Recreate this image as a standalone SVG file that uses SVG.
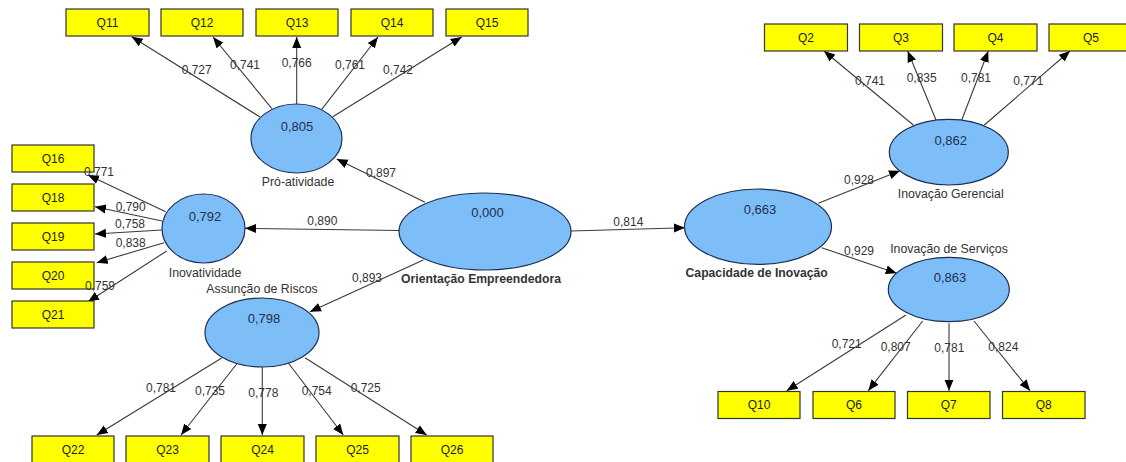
<svg xmlns="http://www.w3.org/2000/svg" width="1126" height="462" viewBox="0 0 1126 462">
<defs>
<marker id="arr" markerUnits="userSpaceOnUse" markerWidth="12" markerHeight="10" refX="11" refY="5" orient="auto">
<path d="M0,0.5 L11,5 L0,9.5 Z" fill="#000"/>
</marker>
<style>
.bg{fill:#fff}
.box{fill:#ffff00;stroke:#333;stroke-width:1.2}
.lv{fill:#7dbdf8;stroke:#1f2f4f;stroke-width:1.2}
.bt{font-family:"Liberation Sans",Arial,sans-serif;font-size:12px;fill:#222;text-anchor:middle;dominant-baseline:central}
.val{font-family:"Liberation Sans",Arial,sans-serif;font-size:13px;fill:#1f2f4f;text-anchor:middle;dominant-baseline:central}
.nm{font-family:"Liberation Sans",Arial,sans-serif;font-size:12.3px;fill:#333;text-anchor:middle;dominant-baseline:central}
.nmb{font-family:"Liberation Sans",Arial,sans-serif;font-size:12.2px;font-weight:bold;fill:#333;text-anchor:middle;dominant-baseline:central}
.cl{stroke:#3a3a3a;stroke-width:1.1;fill:none;marker-end:url(#arr)}
.lb{font-family:"Liberation Sans",Arial,sans-serif;font-size:12px;fill:#333;text-anchor:middle;dominant-baseline:central}
</style>
</defs>
<rect class="bg" x="0" y="0" width="1126" height="462"/>

<g id="connectors">
<line class="cl" x1="260" y1="117" x2="131.7" y2="36.7"/>
<line class="cl" x1="271.7" y1="108.3" x2="213" y2="37"/>
<line class="cl" x1="296.7" y1="104" x2="296.7" y2="37"/>
<line class="cl" x1="321.7" y1="109.3" x2="378" y2="37"/>
<line class="cl" x1="332.7" y1="116.7" x2="461.7" y2="37"/>

<line class="cl" x1="165.7" y1="211.7" x2="88" y2="175"/>
<line class="cl" x1="162" y1="221" x2="95" y2="206.7"/>
<line class="cl" x1="162" y1="230" x2="95" y2="234"/>
<line class="cl" x1="164" y1="242.7" x2="96.7" y2="262.7"/>
<line class="cl" x1="166.7" y1="251" x2="88" y2="301.7"/>

<line class="cl" x1="221.7" y1="358" x2="96.7" y2="435"/>
<line class="cl" x1="236.7" y1="364" x2="181" y2="435"/>
<line class="cl" x1="262.3" y1="367" x2="262.3" y2="435"/>
<line class="cl" x1="288.3" y1="363" x2="343.3" y2="435"/>
<line class="cl" x1="305" y1="357.7" x2="426.7" y2="435"/>

<line class="cl" x1="425" y1="202.3" x2="336.7" y2="159"/>
<line class="cl" x1="399.3" y1="230.5" x2="245" y2="228.3"/>
<line class="cl" x1="423.3" y1="260" x2="310" y2="311.7"/>
<line class="cl" x1="571" y1="231" x2="685" y2="227.7"/>

<line class="cl" x1="818.3" y1="203.3" x2="900" y2="170.7"/>
<line class="cl" x1="821.7" y1="247.7" x2="896.7" y2="273.3"/>

<line class="cl" x1="913.3" y1="125" x2="824" y2="51"/>
<line class="cl" x1="936" y1="120" x2="907.7" y2="51"/>
<line class="cl" x1="961.7" y1="120" x2="988.3" y2="51"/>
<line class="cl" x1="984.3" y1="125" x2="1070" y2="51"/>

<line class="cl" x1="906" y1="315" x2="786.7" y2="390.7"/>
<line class="cl" x1="922.7" y1="321" x2="868.3" y2="390.7"/>
<line class="cl" x1="949" y1="323.3" x2="949" y2="390.7"/>
<line class="cl" x1="974" y1="321" x2="1030" y2="390.7"/>
</g>

<g id="Q11"><rect class="box" x="66" y="9" width="83" height="27"/><text class="bt" x="107.5" y="22.5">Q11</text></g>
<g id="Q12"><rect class="box" x="161" y="9" width="82" height="27"/><text class="bt" x="202" y="22.5">Q12</text></g>
<g id="Q13"><rect class="box" x="256" y="9" width="82" height="27"/><text class="bt" x="297" y="22.5">Q13</text></g>
<g id="Q14"><rect class="box" x="351" y="9" width="82" height="27"/><text class="bt" x="392" y="22.5">Q14</text></g>
<g id="Q15"><rect class="box" x="446" y="9" width="82" height="27"/><text class="bt" x="487" y="22.5">Q15</text></g>

<g id="Q16"><rect class="box" x="12" y="145" width="82" height="27"/><text class="bt" x="53" y="158.5">Q16</text></g>
<g id="Q18"><rect class="box" x="12" y="184" width="82" height="27"/><text class="bt" x="53" y="197.5">Q18</text></g>
<g id="Q19"><rect class="box" x="12" y="223" width="82" height="27"/><text class="bt" x="53" y="236.5">Q19</text></g>
<g id="Q20"><rect class="box" x="12" y="262" width="82" height="27"/><text class="bt" x="53" y="275.5">Q20</text></g>
<g id="Q21"><rect class="box" x="12" y="301" width="82" height="27"/><text class="bt" x="53" y="314.5">Q21</text></g>

<g id="Q22"><rect class="box" x="32" y="436" width="82" height="27"/><text class="bt" x="73" y="449.5">Q22</text></g>
<g id="Q23"><rect class="box" x="126" y="436" width="83" height="27"/><text class="bt" x="167.5" y="449.5">Q23</text></g>
<g id="Q24"><rect class="box" x="221" y="436" width="83" height="27"/><text class="bt" x="262.5" y="449.5">Q24</text></g>
<g id="Q25"><rect class="box" x="316" y="436" width="83" height="27"/><text class="bt" x="357.5" y="449.5">Q25</text></g>
<g id="Q26"><rect class="box" x="411" y="436" width="82" height="27"/><text class="bt" x="452" y="449.5">Q26</text></g>

<g id="Q2"><rect class="box" x="764.5" y="24" width="83" height="27"/><text class="bt" x="806" y="37.5">Q2</text></g>
<g id="Q3"><rect class="box" x="859.5" y="24" width="83" height="27"/><text class="bt" x="901" y="37.5">Q3</text></g>
<g id="Q4"><rect class="box" x="954" y="24" width="83" height="27"/><text class="bt" x="995.5" y="37.5">Q4</text></g>
<g id="Q5"><rect class="box" x="1049" y="24" width="83" height="27"/><text class="bt" x="1091" y="37.5">Q5</text></g>

<g id="Q10"><rect class="box" x="718" y="391.5" width="82" height="27"/><text class="bt" x="759" y="405">Q10</text></g>
<g id="Q6"><rect class="box" x="813" y="391.5" width="82" height="27"/><text class="bt" x="854" y="405">Q6</text></g>
<g id="Q7"><rect class="box" x="907.5" y="391.5" width="82.5" height="27"/><text class="bt" x="948.7" y="405">Q7</text></g>
<g id="Q8"><rect class="box" x="1002.5" y="391.5" width="82.5" height="27"/><text class="bt" x="1043.7" y="405">Q8</text></g>

<g id="pro-atividade"><ellipse class="lv" cx="296.5" cy="138.5" rx="45.5" ry="34.5"/><text class="val" x="297" y="126">0,805</text><text class="nm" x="298" y="182">Pró-atividade</text></g>
<g id="inovatividade"><ellipse class="lv" cx="203.5" cy="228.5" rx="41.5" ry="34.5"/><text class="val" x="205" y="216">0,792</text><text class="nm" x="205" y="273">Inovatividade</text></g>
<g id="assuncao-de-riscos"><ellipse class="lv" cx="262" cy="332.5" rx="57" ry="34.5"/><text class="val" x="264" y="318">0,798</text><text class="nm" x="262" y="289">Assunção de Riscos</text></g>
<g id="orientacao-empreendedora"><ellipse class="lv" cx="485" cy="231.5" rx="86" ry="38.5"/><text class="val" x="487.5" y="212.7">0,000</text><text class="nmb" x="481" y="279.3">Orientação Empreendedora</text></g>
<g id="capacidade-de-inovacao"><ellipse class="lv" cx="758" cy="226.7" rx="73.5" ry="37.7"/><text class="val" x="760" y="209.3">0,663</text><text class="nmb" x="756.7" y="273.3">Capacidade de Inovação</text></g>
<g id="inovacao-gerencial"><ellipse class="lv" cx="948.8" cy="152.2" rx="59.5" ry="32.8"/><text class="val" x="950.7" y="140">0,862</text><text class="nm" x="950.7" y="194.3">Inovação Gerencial</text></g>
<g id="inovacao-de-servicos"><ellipse class="lv" cx="948.8" cy="289.5" rx="60.5" ry="32.2"/><text class="val" x="950" y="277.3">0,863</text><text class="nm" x="949" y="249">Inovação de Serviços</text></g>

<g id="connector-labels">
<text class="lb" x="196.7" y="70">0,727</text>
<text class="lb" x="245" y="65">0,741</text>
<text class="lb" x="296.7" y="63">0,766</text>
<text class="lb" x="350" y="65">0,761</text>
<text class="lb" x="398" y="70">0,742</text>

<text class="lb" x="99" y="172">0,771</text>
<text class="lb" x="130.7" y="206.7">0,790</text>
<text class="lb" x="130" y="223.5">0,758</text>
<text class="lb" x="130.7" y="243">0,838</text>
<text class="lb" x="100" y="285.7">0,759</text>

<text class="lb" x="161" y="387.7">0,781</text>
<text class="lb" x="210" y="390.7">0,735</text>
<text class="lb" x="263.3" y="393">0,778</text>
<text class="lb" x="316.7" y="390.7">0,754</text>
<text class="lb" x="365.7" y="387.7">0,725</text>

<text class="lb" x="381" y="172.7">0,897</text>
<text class="lb" x="322.3" y="221">0,890</text>
<text class="lb" x="367" y="277.5">0,893</text>
<text class="lb" x="628.3" y="221.7">0,814</text>

<text class="lb" x="859" y="180">0,928</text>
<text class="lb" x="859" y="251">0,929</text>

<text class="lb" x="870" y="81">0,741</text>
<text class="lb" x="921.7" y="77.7">0,835</text>
<text class="lb" x="976" y="77.7">0,781</text>
<text class="lb" x="1028.3" y="81">0,771</text>

<text class="lb" x="846.7" y="344.3">0,721</text>
<text class="lb" x="895.7" y="346.7">0,807</text>
<text class="lb" x="949.3" y="348.3">0,781</text>
<text class="lb" x="1003.3" y="346.7">0,824</text>
</g>
</svg>
